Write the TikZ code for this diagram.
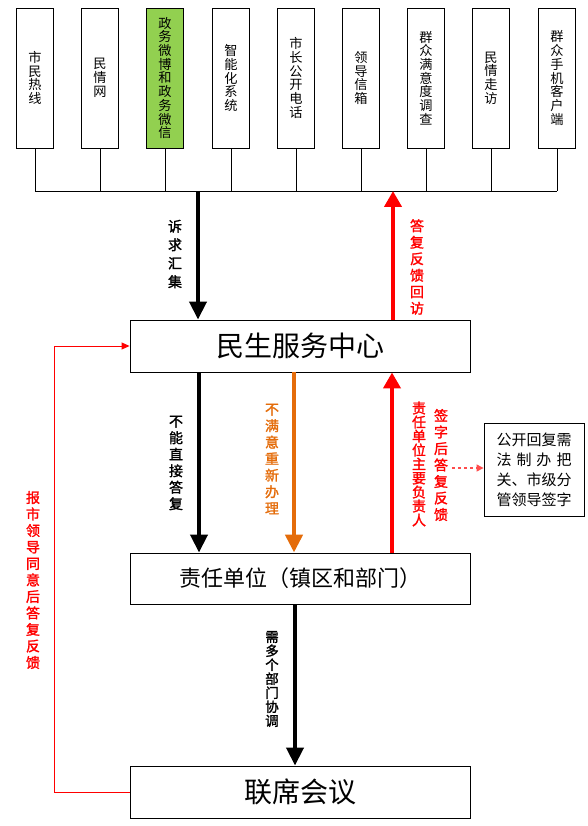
\documentclass[tikz,border=0pt]{standalone}
\usepackage{fontspec}
\setmainfont{Noto Sans CJK SC}
\newfontfamily\cjkb[FakeBold=1.6]{Noto Sans CJK SC}
\usetikzlibrary{arrows.meta}
\definecolor{tgreen}{HTML}{92D050}
\definecolor{torange}{HTML}{E46C0A}
\definecolor{tred}{HTML}{FF0000}
\tikzset{
  topbox/.style={draw, line width=0.9pt, minimum width=37pt, minimum height=140pt, inner sep=0pt, align=center, font=\fontsize{13.2}{13.7}\selectfont},
  mainbox/.style={draw, line width=0.9pt, minimum width=340pt, inner sep=0pt},
  sidebox/.style={draw, line width=0.9pt, minimum width=100pt, minimum height=93pt, inner sep=0pt, align=left, font=\fontsize{15}{20}\selectfont},
  lab/.style={inner sep=0pt, align=center, font=\cjkb\fontsize{14}{16.5}\selectfont},
  blackarrow/.style={line width=4pt, -{Triangle[width=17pt,length=18pt]}},
  redarrow/.style={tred, line width=4.5pt, -{Triangle[width=17pt,length=16pt]}},
  orangearrow/.style={torange, line width=4.5pt, -{Triangle[width=17pt,length=18pt]}},
  thin/.style={line width=0.9pt},
}
\begin{document}
\begin{tikzpicture}[x=1pt,y=-1pt]
\useasboundingbox (0,0) rectangle (587,826);
% top boxes
\node[topbox] (t1) at (35,78) {市\\民\\热\\线};
\node[topbox] (t2) at (100,78) {民\\情\\网};
\node[topbox, fill=tgreen] (t3) at (165,78) {政\\务\\微\\博\\和\\政\\务\\微\\信};
\node[topbox] (t4) at (231,78) {智\\能\\化\\系\\统};
\node[topbox] (t5) at (296,78) {市\\长\\公\\开\\电\\话};
\node[topbox] (t6) at (361,78) {领\\导\\信\\箱};
\node[topbox] (t7) at (426,78) {群\\众\\满\\意\\度\\调\\查};
\node[topbox] (t8) at (491,78) {民\\情\\走\\访};
\node[topbox] (t9) at (557,78) {群\\众\\手\\机\\客\\户\\端};
\coordinate (busL) at (35,191);
\coordinate (busR) at (557,191);
\draw[thin] (busL) -- (busR);
\foreach \i in {1,...,9} { \draw[thin] (t\i.south) -- (t\i.south |- busL); }
% main boxes
\node[mainbox, minimum height=52pt, font=\fontsize{28}{30}\selectfont] (m1) at (300,346) {民生服务中心};
\node[mainbox, minimum height=51pt, font=\fontsize{22}{24}\selectfont] (m2) at (300,578.5) {责任单位（镇区和部门）};
\node[mainbox, minimum height=52pt, font=\fontsize{28}{30}\selectfont] (m3) at (300,792) {联席会议};
\node[sidebox] (s) at (534,469.5) {公开回复需\\法\hfill 制\hfill 办\hfill 把\\关、市级分\\管领导签字};
% arrows between bus and m1
\coordinate (a1) at (198,191);
\coordinate (a2) at (393,320);
\draw[blackarrow] (a1) -- (a1 |- m1.north);
\draw[redarrow] (a2) -- (a2 |- busL);
\node[lab] (l1) at (175,254) {诉\\[2pt]求\\[2pt]汇\\[2pt]集};
\node[lab, text=tred] (l2) at (417,267) {答\\复\\反\\馈\\回\\访};
% arrows between m1 and m2
\coordinate (b1) at (199,372);
\coordinate (b2) at (294,372);
\coordinate (b3) at (392,553);
\draw[blackarrow] (b1) -- (b1 |- m2.north);
\draw[orangearrow] (b2) -- (b2 |- m2.north);
\draw[redarrow] (b3) -- (b3 |- m1.south);
\node[lab] (l3) at (176,463) {不\\能\\直\\接\\答\\复};
\node[lab, text=torange] (l4) at (272,459) {不\\满\\意\\重\\新\\办\\理};
\node[lab, text=tred, font=\cjkb\fontsize{14}{14}\selectfont] (l5) at (419,464) {责\\任\\单\\位\\主\\要\\负\\责\\人};
\node[lab, text=tred] (l6) at (441,465) {签\\字\\后\\答\\复\\反\\馈};
\coordinate (d1) at (452,468);
\draw[tred!70, line width=1.2pt, dashed, -{Triangle[width=7pt,length=7pt]}] (d1) -- (d1 -| s.west);
% arrow m2 to m3
\coordinate (c1) at (295,604);
\draw[blackarrow] (c1) -- (c1 |- m3.north);
\node[lab, font=\cjkb\fontsize{13.5}{14}\selectfont] (l7) at (272,679) {需\\多\\个\\部\\门\\协\\调};
% left feedback
\coordinate (e1) at (54,346);
\draw[tred, line width=1pt, -{Triangle[width=7pt,length=8pt]}] (m3.west) -| (e1) -- (m1.west);
\node[lab, text=tred] (l8) at (33,580) {报\\市\\领\\导\\同\\意\\后\\答\\复\\反\\馈};
\end{tikzpicture}
\end{document}
